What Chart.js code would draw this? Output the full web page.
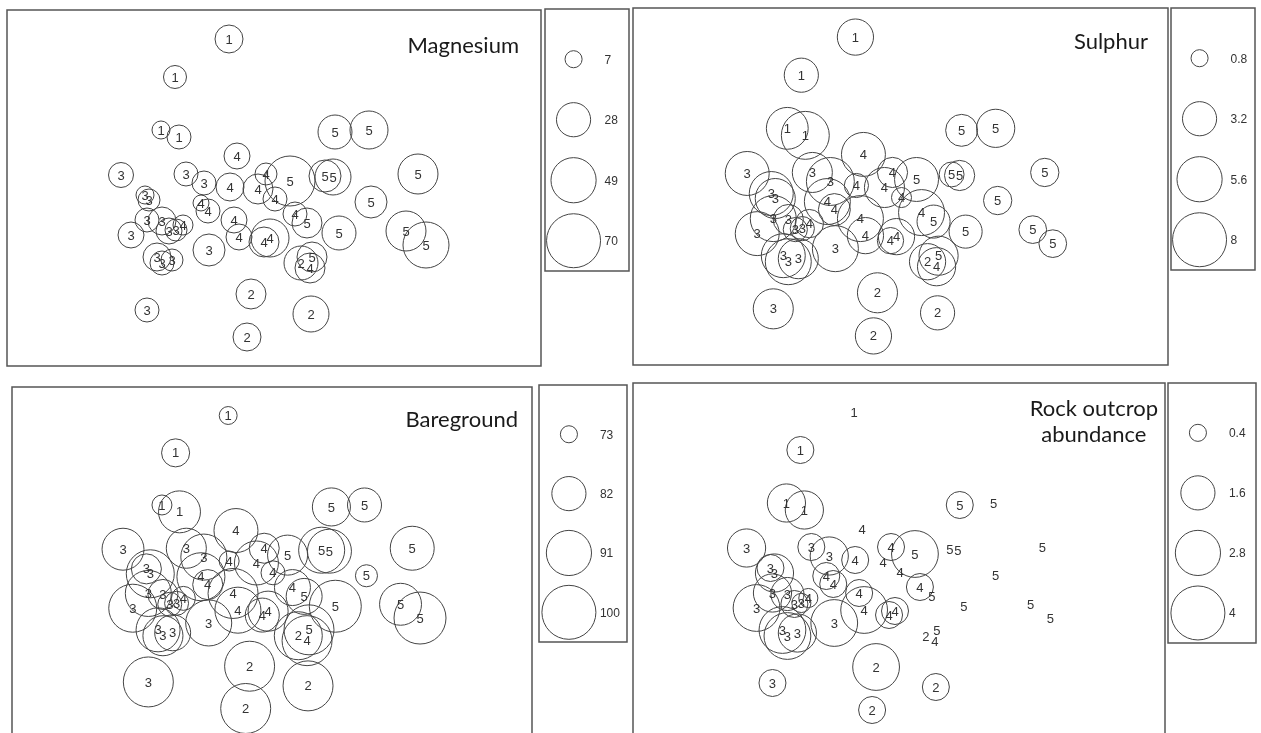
<!DOCTYPE html>
<html>
<head>
<meta charset="utf-8">
<script src="https://cdn.jsdelivr.net/npm/chart.js@4.4.1/dist/chart.umd.min.js"></script>
<style>
  html, body { margin: 0; padding: 0; background: #fff; }
  body { width: 1261px; height: 733px; position: relative; overflow: hidden; }
  canvas { position: absolute; }
</style>
</head>
<body>
<script>
// site scores on the two ordination axes, and the group of each site
const nmds1 = [-0.51, -1.05, -1.19, -1.01, -1.59, -1.35, -1.31, -1.33, -1.18, -1.11, -1.04, -0.97, -1.49, -1.23, -1.18, -1.08, -0.71, -0.94, -0.76, -1.33,
  -0.43, -0.50, -0.22, -0.14, -0.05, -0.79, -0.72, -0.46, -0.41, -0.16, -0.10, 0.15, 0.30,
  0.10, 0.45, 0.53, 0.55, 0.89, 1.38, 0.91, 0.27, 0.59, 1.26, 1.46, 0.32,
  0.21, -0.29, 0.31, -0.33];
const nmds2 = [1.61, 1.23, 0.70, 0.63, 0.25, 0.05, 0.00, -0.20, -0.21, -0.31, -0.30, -0.25, -0.35, -0.57, -0.63, -0.60, -0.50, 0.26, 0.17, -1.10,
  0.44, 0.13, 0.11, 0.26, 0.01, -0.03, -0.11, -0.20, -0.37, -0.42, -0.38, -0.14, -0.68,
  0.19, 0.24, 0.23, 0.68, 0.70, 0.26, -0.02, -0.23, -0.33, -0.31, -0.45, -0.57,
  -0.63, -0.94, -1.14, -1.37];
const groups = [1, 1, 1, 1, 3, 3, 3, 3, 3, 3, 3, 4, 3, 3, 3, 3, 3, 3, 3, 3,
  4, 4, 4, 4, 4, 4, 4, 4, 4, 4, 4, 4, 4,
  5, 5, 5, 5, 5, 5, 5, 5, 5, 5, 5, 5,
  2, 2, 2, 2];

// environmental variables per site
const magnesium = [18.8, 12.7, 7.8, 13.8, 15.0, 7.8, 11.6, 13.8, 18.8, 16.2, 11.6, 9.6, 16.2, 18.8, 13.8, 11.6, 24.6, 13.8, 13.8, 13.8,
  16.2, 18.8, 21.6, 11.6, 13.8, 6.1, 13.8, 16.2, 16.2, 21.6, 34.7, 13.8, 21.6,
  60.0, 24.6, 31.1, 27.7, 34.7, 38.4, 24.6, 21.6, 27.7, 38.4, 50.8, 21.6,
  27.7, 21.6, 31.1, 18.8];
const sulphur = [3.6, 3.2, 4.8, 6.3, 5.3, 5.3, 4.4, 5.8, 2.5, 1.6, 1.6, 2.2, 5.3, 5.3, 5.8, 4.4, 5.8, 4.4, 6.3, 4.4,
  5.3, 1.6, 4.4, 2.5, 1.1, 5.8, 2.8, 5.8, 3.6, 1.9, 3.6, 5.8, 4.0,
  5.3, 1.7, 2.5, 2.8, 4.0, 2.2, 2.2, 3.0, 3.0, 2.1, 2.1, 4.2,
  3.6, 4.4, 3.2, 3.6];
const bareground = [73.3, 78.1, 74.1, 88.1, 88.1, 79.3, 93.7, 91.8, 79.3, 75.9, 75.9, 75.9, 93.7, 89.9, 86.5, 83.3, 91.8, 86.5, 91.8, 95.7,
  89.9, 74.1, 89.9, 79.3, 75.9, 93.7, 79.3, 95.7, 91.8, 81.9, 86.5, 83.3, 95.7,
  86.5, 91.8, 89.9, 84.9, 81.9, 89.9, 75.0, 83.3, 97.8, 88.1, 97.8, 95.7,
  93.7, 95.7, 95.7, 95.7];
const rockOutcrop = [0, 1, 2, 2, 2, 1, 2, 2, 1.5, 1, 0.5, 0.5, 3, 3, 3, 2, 3, 1, 2, 1,
  0, 1, 0, 1, 0, 1, 1, 1, 3, 1, 1, 1, 0,
  3, 0, 0, 1, 0, 0, 0, 0, 0, 0, 0, 0,
  0, 3, 1, 1];

// legend keys
const magnesiumKeys = [7, 28, 49, 70];
const sulphurKeys = [0.8, 3.2, 5.6, 8];
const baregroundKeys = [73, 82, 91, 100];
const rockKeys = [0.4, 1.6, 2.8, 4];

const MAX_R = 27;
const INK = '#444';

function radius(v, scale) {
    const f = (v - scale.base) / scale.range;
    return f > 0 ? MAX_R * Math.sqrt(f) : 0;
}

function addCanvas(box) {
    const c = document.createElement('canvas');
    c.width = box.w + 2;
    c.height = box.h + 2;
    c.style.left = (box.x - 1) + 'px';
    c.style.top = (box.y - 1) + 'px';
    c.style.width = c.width + 'px';
    c.style.height = c.height + 'px';
    document.body.appendChild(c);
    return c;
}

const frame = {
    id: 'frame',
    afterDraw(chart) {
        const { ctx, chartArea: a } = chart;
        ctx.save();
        ctx.strokeStyle = '#555';
        ctx.lineWidth = 1.5;
        ctx.strokeRect(a.left, a.top, a.right - a.left, a.bottom - a.top);
        ctx.restore();
    }
};

function textAtPoints(labels, dx, align, font) {
    return {
        id: 'textAtPoints',
        afterDatasetsDraw(chart) {
            const { ctx } = chart;
            ctx.save();
            ctx.font = font;
            ctx.fillStyle = '#333';
            ctx.textAlign = align;
            ctx.textBaseline = 'middle';
            chart.getDatasetMeta(0).data.forEach((el, i) => {
                ctx.fillText(String(labels[i]), el.x + dx, el.y + 1);
            });
            ctx.restore();
        }
    };
}

function panelTitle(t) {
    return {
        id: 'panelTitle',
        afterDraw(chart) {
            const { ctx, chartArea: a } = chart;
            ctx.save();
            ctx.font = '22px Lato';
            ctx.fillStyle = '#1a1a1a';
            ctx.textAlign = 'center';
            ctx.textBaseline = 'alphabetic';
            const w = Math.max(...t.lines.map(l => ctx.measureText(l).width));
            const cx = a.right - t.right - w / 2;
            t.lines.forEach((l, i) => ctx.fillText(l, cx, a.top + t.top + i * 26));
            ctx.restore();
        }
    };
}

const baseOptions = {
    responsive: false,
    animation: false,
    events: [],
    devicePixelRatio: 1,
    layout: { padding: 1, autoPadding: false },
    plugins: { legend: { display: false }, tooltip: { enabled: false } }
};

function sitePanel(box, values, scale, title) {
    return new Chart(addCanvas(box), {
        type: 'bubble',
        data: {
            datasets: [{
                data: values.map((v, i) => ({ x: nmds1[i], y: nmds2[i], r: radius(v, scale) })),
                backgroundColor: 'rgba(0,0,0,0)',
                borderColor: INK,
                borderWidth: 1,
                clip: false
            }]
        },
        options: {
            ...baseOptions,
            scales: {
                x: { type: 'linear', display: false, min: -2.73, max: 2.61 },
                y: { type: 'linear', display: false, min: -1.66, max: 1.90 }
            }
        },
        plugins: [frame, textAtPoints(groups, 0, 'center', '13px "Liberation Sans"'), panelTitle(title)]
    });
}

function keyPanel(box, keys, scale) {
    return new Chart(addCanvas(box), {
        type: 'bubble',
        data: {
            datasets: [{
                data: keys.map((v, i) => ({ x: 0.34, y: i, r: radius(v, scale) })),
                backgroundColor: 'rgba(0,0,0,0)',
                borderColor: INK,
                borderWidth: 1,
                clip: false
            }]
        },
        options: {
            ...baseOptions,
            scales: {
                x: { type: 'linear', display: false, min: 0, max: 1 },
                y: { type: 'linear', display: false, min: -0.83, max: 3.5, reverse: true }
            }
        },
        plugins: [frame, textAtPoints(keys, 31, 'left', '12px "Liberation Sans"')]
    });
}

const mgScale = { base: 0, range: 70 };
const sScale = { base: 0, range: 8 };
const bareScale = { base: 70, range: 30 };
const rockScale = { base: 0, range: 4 };

sitePanel({ x: 7, y: 10, w: 534, h: 356 }, magnesium, mgScale, { lines: ['Magnesium'], right: 22, top: 43 });
keyPanel({ x: 545, y: 9, w: 84, h: 262 }, magnesiumKeys, mgScale);

sitePanel({ x: 633, y: 8, w: 535, h: 357 }, sulphur, sScale, { lines: ['Sulphur'], right: 20, top: 41 });
keyPanel({ x: 1171, y: 8, w: 84, h: 262 }, sulphurKeys, sScale);

sitePanel({ x: 12, y: 387, w: 520, h: 350 }, bareground, bareScale, { lines: ['Bareground'], right: 14, top: 40 });
keyPanel({ x: 539, y: 385, w: 88, h: 257 }, baregroundKeys, bareScale);

sitePanel({ x: 633, y: 383, w: 532, h: 356 }, rockOutcrop, rockScale, { lines: ['Rock outcrop', 'abundance'], right: 7, top: 33 });
keyPanel({ x: 1168, y: 383, w: 88, h: 260 }, rockKeys, rockScale);
</script>
</body>
</html>
